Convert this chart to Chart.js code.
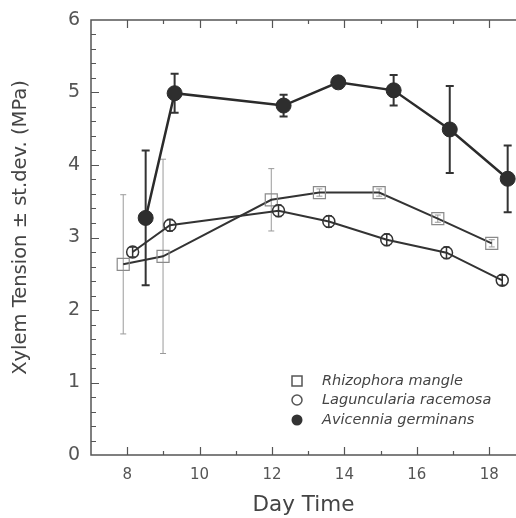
<!DOCTYPE html>
<html><head><meta charset="utf-8">
<script src="https://cdn.jsdelivr.net/npm/chart.js@4.4.1/dist/chart.umd.min.js"></script>
<style>html,body{margin:0;padding:0;background:#fff}canvas{display:block}</style>
</head><body>
<canvas id="c" width="516" height="518"></canvas>
<script>
// ---- data ----
const seriesNames = ['Rhizophora mangle', 'Laguncularia racemosa', 'Avicennia germinans'];

const dayRh = [7.89, 8.99, 11.98, 13.31, 14.96, 16.58, 18.07];
const valRh = [2.63, 2.74, 3.52, 3.62, 3.62, 3.26, 2.92];
const errRh = [0.96, 1.34, 0.43, 0.05, 0.05, 0.05, 0.05];

const dayLr = [8.15, 9.18, 12.18, 13.57, 15.17, 16.82, 18.36];
const valLr = [2.80, 3.17, 3.37, 3.22, 2.97, 2.79, 2.41];
const errLr = [0.07, 0.08, 0.08, 0.08, 0.08, 0.08, 0.07];

const dayAg = [8.51, 9.31, 12.32, 13.83, 15.36, 16.91, 18.51];
const valAg = [3.27, 4.99, 4.82, 5.14, 5.03, 4.49, 3.81];
const errAg = [0.93, 0.27, 0.15, 0.05, 0.21, 0.60, 0.46];

const xTicks = [8, 10, 12, 14, 16, 18];
const yTicks = [0, 1, 2, 3, 4, 5, 6];
const xMin = 7, xMax = 18.74, yMin = 0, yMax = 6;
const xMinorStep = 1, yMinorStep = 0.2;
const xTitle = 'Day Time';
const yTitle = 'Xylem Tension \u00B1 st.dev. (MPa)';

const pts = (xs, ys) => xs.map((d, i) => ({x: d, y: ys[i]}));

Chart.defaults.font.family = '"DejaVu Sans", "Liberation Sans", sans-serif';

const framePlugin = {
  id: 'frame',
  beforeDatasetsDraw(chart) {
    const {ctx, chartArea: a, scales: {x, y}} = chart;
    ctx.save();
    ctx.strokeStyle = '#555';
    ctx.lineWidth = 1.5;
    ctx.beginPath();
    ctx.moveTo(a.right + 2, a.top); ctx.lineTo(a.left, a.top);
    ctx.lineTo(a.left, a.bottom); ctx.lineTo(a.right + 2, a.bottom);
    ctx.stroke();
    ctx.lineWidth = 1.2;
    ctx.beginPath();
    for (let v = xMin + xMinorStep; v <= xMax; v += xMinorStep) {
      const px = Math.round(x.getPixelForValue(v)) + 0.5;
      const len = xTicks.includes(v) ? 8 : 4;
      ctx.moveTo(px, a.bottom); ctx.lineTo(px, a.bottom - len);
      ctx.moveTo(px, a.top); ctx.lineTo(px, a.top + len);
    }
    const n = Math.round((yMax - yMin) / yMinorStep);
    for (let k = 1; k < n; k++) {
      const v = yMin + k * yMinorStep;
      const py = Math.round(y.getPixelForValue(v)) + 0.5;
      const major = Math.abs(v - Math.round(v)) < 1e-6;
      const len = major ? 8 : 5;
      ctx.moveTo(a.left, py); ctx.lineTo(a.left + len, py);
    }
    ctx.stroke();
    ctx.restore();
  }
};

const errorBarPlugin = {
  id: 'errbars',
  beforeDatasetsDraw(chart) {
    const {ctx, scales: {x, y}} = chart;
    ctx.save();
    chart.data.datasets.forEach(ds => {
      if (!ds.errors) return;
      ctx.strokeStyle = ds.errColor;
      ctx.lineWidth = ds.errWidth;
      ctx.beginPath();
      ds.data.forEach((p, j) => {
        const e = ds.errors[j];
        const px = x.getPixelForValue(p.x);
        const t = y.getPixelForValue(p.y + e);
        const b = y.getPixelForValue(p.y - e);
        ctx.moveTo(px, t); ctx.lineTo(px, b);
        ctx.moveTo(px - ds.capHalf, t); ctx.lineTo(px + ds.capHalf, t);
        ctx.moveTo(px - ds.capHalf, b); ctx.lineTo(px + ds.capHalf, b);
      });
      ctx.stroke();
    });
    ctx.restore();
  }
};

const textPlugin = {
  id: 'customText',
  afterDraw(chart) {
    const {ctx, chartArea: a} = chart;
    const mx = a.left + 206, tx = a.left + 231;
    const rows = [a.top + 361, a.top + 380, a.top + 400];
    ctx.save();
    // legend markers
    ctx.lineWidth = 1.5;
    ctx.strokeStyle = '#555';
    ctx.strokeRect(mx - 5, rows[0] - 5, 10, 10);
    ctx.beginPath(); ctx.arc(mx, rows[1], 5, 0, Math.PI * 2); ctx.stroke();
    ctx.fillStyle = '#333';
    ctx.beginPath(); ctx.arc(mx, rows[2], 5.5, 0, Math.PI * 2); ctx.fill();
    ctx.font = 'oblique 14.5px "DejaVu Sans", sans-serif';
    ctx.fillStyle = '#444';
    ctx.textBaseline = 'middle';
    seriesNames.forEach((s, i) => ctx.fillText(s, tx, rows[i]));
    // y axis title
    ctx.font = '19.5px "DejaVu Sans", sans-serif';
    ctx.textAlign = 'center';
    ctx.translate(21, (a.top + a.bottom) / 2 - 10);
    ctx.rotate(-Math.PI / 2);
    ctx.fillText(yTitle, 0, 0);
    ctx.restore();
  }
};

new Chart(document.getElementById('c'), {
  type: 'line',
  data: {
    datasets: [
      {
        label: seriesNames[0], data: pts(dayRh, valRh), order: 2,
        borderColor: '#333', borderWidth: 2, tension: 0,
        pointStyle: 'rect', pointRadius: 8.5, pointBorderColor: '#8a8a8a',
        pointBackgroundColor: 'rgba(0,0,0,0)', pointBorderWidth: 1.2,
        errors: errRh, errColor: '#9a9a9a', errWidth: 1, capHalf: 3, clip: false
      },
      {
        label: seriesNames[1], data: pts(dayLr, valLr), order: 1,
        borderColor: '#333', borderWidth: 2, tension: 0,
        pointStyle: 'circle', pointRadius: 6, pointBorderColor: '#333',
        pointBackgroundColor: 'rgba(0,0,0,0)', pointBorderWidth: 1.5,
        errors: errLr, errColor: '#333', errWidth: 1.5, capHalf: 3, clip: false
      },
      {
        label: seriesNames[2], data: pts(dayAg, valAg), order: 0,
        borderColor: '#2b2b2b', borderWidth: 2.5, tension: 0,
        pointStyle: 'circle', pointRadius: 7.5, pointBorderColor: '#2b2b2b',
        pointBackgroundColor: '#2e2e2e', pointBorderWidth: 1,
        errors: errAg, errColor: '#333', errWidth: 2, capHalf: 4, clip: false
      }
    ]
  },
  options: {
    responsive: false,
    animation: false,
    layout: {autoPadding: false, padding: {top: 20, right: 0, left: 0, bottom: 0}},
    plugins: {legend: {display: false}, tooltip: {enabled: false}},
    scales: {
      x: {
        type: 'linear', min: xMin, max: xMax,
        afterBuildTicks: s => { s.ticks = xTicks.map(v => ({value: v})); },
        afterFit: s => { s.height = 63; s.paddingLeft = 0; s.paddingRight = 0; },
        grid: {display: false, drawTicks: false, tickLength: 0},
        border: {display: false},
        ticks: {font: {size: 15}, color: '#555', padding: 11, maxRotation: 0, autoSkip: false},
        title: {display: true, text: xTitle, font: {size: 21.5}, color: '#444', padding: {top: 0, bottom: 0}}
      },
      y: {
        type: 'linear', min: yMin, max: yMax,
        afterBuildTicks: s => { s.ticks = yTicks.map(v => ({value: v})); },
        afterFit: s => { s.width = 91; s.paddingTop = 0; s.paddingBottom = 0; },
        grid: {display: false, drawTicks: false, tickLength: 0},
        border: {display: false},
        ticks: {font: {size: 19}, color: '#555', padding: 11, autoSkip: false},
        title: {display: false}
      }
    }
  },
  plugins: [framePlugin, errorBarPlugin, textPlugin]
});
</script>
</body></html>
